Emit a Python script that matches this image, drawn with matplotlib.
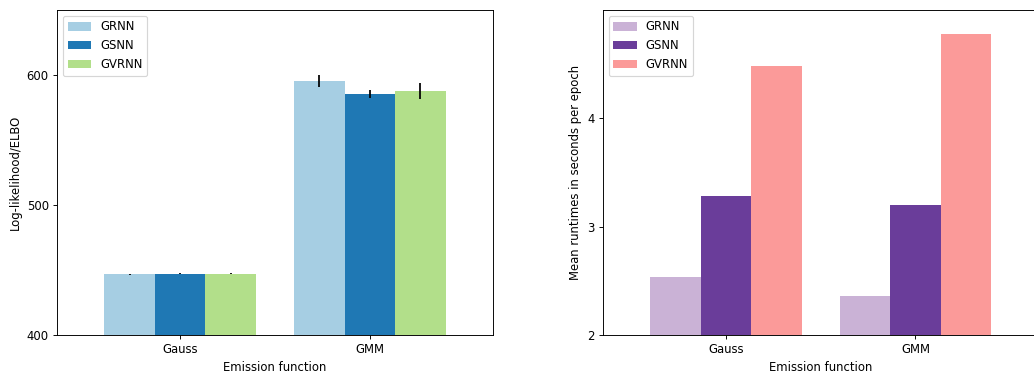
import matplotlib
matplotlib.use("Agg")
import matplotlib.pyplot as plt
import numpy as np

categories = ["Gauss", "GMM"]
models = ["GRNN", "GSNN", "GVRNN"]

# Left: log-likelihood / ELBO
ll_values = {
    "GRNN": [446.6, 595.5],
    "GSNN": [447.0, 585.5],
    "GVRNN": [447.0, 587.8],
}
ll_errors = {
    "GRNN": [0.4, 4.5],
    "GSNN": [0.4, 3.2],
    "GVRNN": [0.4, 5.9],
}
ll_colors = ["#a6cee3", "#1f78b4", "#b2df8a"]

# Right: runtimes
rt_values = {
    "GRNN": [2.535, 2.36],
    "GSNN": [3.28, 3.198],
    "GVRNN": [4.487, 4.78],
}
rt_colors = ["#cab2d6", "#6a3d9a", "#fb9a99"]

W, H = 1034, 374
dpi = 84
fig = plt.figure(figsize=(W / dpi, H / dpi), dpi=dpi)

ax1 = fig.add_axes([57 / W, 1 - 335 / H, 436 / W, 325 / H])
ax2 = fig.add_axes([602.7 / W, 1 - 335 / H, 436 / W, 325 / H])

x = np.arange(len(categories))
width = 0.8 / 3
offsets = [-width, 0, width]

for i, m in enumerate(models):
    ax1.bar(x + offsets[i], ll_values[m], width, yerr=ll_errors[m],
            color=ll_colors[i], label=m, ecolor="black",
            error_kw=dict(elinewidth=1.5, capsize=0), linewidth=0)
ax1.set_ylim(400, 650)
ax1.set_yticks([400, 500, 600])
ax1.set_xlim(-0.65, 1.65)
ax1.set_xticks(x)
ax1.set_xticklabels(categories)
ax1.set_xlabel("Emission function")
ax1.set_ylabel("Log-likelihood/ELBO")
ax1.legend(loc="upper left")

for i, m in enumerate(models):
    ax2.bar(x + offsets[i], rt_values[m], width, color=rt_colors[i],
            label=m, linewidth=0)
ax2.set_ylim(2, 5)
ax2.set_yticks([2, 3, 4])
ax2.set_xlim(-0.65, 1.65)
ax2.set_xticks(x)
ax2.set_xticklabels(categories)
ax2.set_xlabel("Emission function")
ax2.set_ylabel("Mean runtimes in seconds per epoch")
ax2.legend(loc="upper left")

fig.savefig("out.png", dpi=dpi)
